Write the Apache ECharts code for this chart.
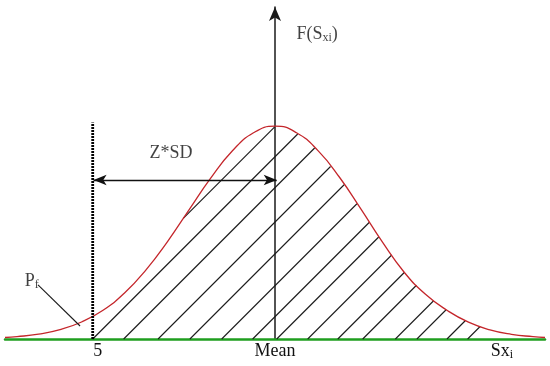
<!DOCTYPE html>
<html>
<head>
<meta charset="utf-8">
<script src="https://cdn.jsdelivr.net/npm/echarts@6/dist/echarts.min.js"></script>
<style>
html, body { margin: 0; padding: 0; background: #fff; }
#main { width: 550px; height: 366px; }
</style>
</head>
<body>
<div id="main"></div>
<script>
// density curve, x in SD units around the mean, y relative to the peak
var curveX = [-3.14, -3, -2.75, -2.5, -2.25, -2, -1.75, -1.5, -1.25, -1, -0.75, -0.5, -0.25, 0,
              0.25, 0.5, 0.75, 1, 1.25, 1.5, 1.75, 2, 2.25, 2.5, 2.75, 3, 3.14];
var curveY = [0.007, 0.011, 0.023, 0.044, 0.08, 0.135, 0.216, 0.325, 0.458, 0.607, 0.755, 0.882, 0.969, 1,
              0.969, 0.885, 0.76, 0.61, 0.455, 0.315, 0.21, 0.135, 0.079, 0.043, 0.022, 0.011, 0.007];

// the "5" limit line and its height
var cutX = -2.12;
var cutTop = 1.017;

// where each hatch line meets the base line
var hatchBase = [-2.47, -2.12, -1.76, -1.36, -0.99, -0.62, -0.26, 0.02, 0.38, 0.73, 1.02, 1.4, 1.65, 2.0, 2.24];

// Z*SD arrow and Pf leader
var spanArrow = [[-2.11, 0.747], [0.02, 0.747]];
var pfLeader = [[-2.756, 0.254], [-2.267, 0.061]];

var tickValues = [-2.06, 0, 2.64];
var tickLabels = ['{m|5}', '{m|Mean}', '{m|Sx}{s|i}'];

var noteNames = ['{m|F(S}{s|xi}{m|)}', '{m|Z*SD}', '{m|P}{s|f}'];
var noteX = [0.49, -1.21, -2.83];
var noteY = [1.43, 0.87, 0.27];

var serif = 'Liberation Serif';
var richText = {
    m: { fontFamily: serif, fontSize: 18, color: '#111', verticalAlign: 'bottom', padding: [0, 0, 1, 0] },
    s: { fontFamily: serif, fontSize: 12, color: '#111', verticalAlign: 'bottom' }
};

var chart = echarts.init(document.getElementById('main'));

function curveAt(pts, px) {
    for (var i = 0; i < pts.length - 1; i++) {
        if (px >= pts[i][0] && px <= pts[i + 1][0]) {
            var t = (px - pts[i][0]) / (pts[i + 1][0] - pts[i][0]);
            return pts[i][1] + t * (pts[i + 1][1] - pts[i][1]);
        }
    }
    return Infinity;
}

function renderHatch(params, api) {
    var p0 = api.coord([api.value(0), 0]);
    var c = p0[0] + p0[1];
    var left = api.coord([cutX, 0])[0];
    var pts = curveX.map(function (x, i) { return api.coord([x, curveY[i]]); });
    var first = null, last = null;
    for (var px = Math.max(left, p0[0]); px <= pts[pts.length - 1][0]; px += 0.25) {
        var py = c - px;
        if (py <= p0[1] + 0.01 && py >= curveAt(pts, px)) {
            if (!first) first = [px, py];
            last = [px, py];
        } else if (first) {
            break;
        }
    }
    if (!first) return null;
    return {
        type: 'line',
        shape: { x1: first[0], y1: first[1], x2: last[0], y2: last[1] },
        style: { stroke: '#1a1a1a', lineWidth: 1.1 }
    };
}

var option = {
    backgroundColor: '#fff',
    animation: false,
    grid: { left: 5, right: 5, top: 7, bottom: 27 },
    xAxis: {
        type: 'value',
        min: -3.14,
        max: 3.14,
        splitLine: { show: false },
        axisLine: { lineStyle: { color: '#1f9e1f', width: 2.5 } },
        axisTick: { show: false },
        axisLabel: {
            customValues: tickValues,
            margin: 3,
            rich: richText,
            formatter: function (v) {
                var idx = 0;
                for (var i = 0; i < tickValues.length; i++) {
                    if (Math.abs(tickValues[i] - v) < Math.abs(tickValues[idx] - v)) idx = i;
                }
                return tickLabels[idx];
            }
        }
    },
    yAxis: {
        type: 'value',
        min: 0,
        max: 1.56,
        splitLine: { show: false },
        axisTick: { show: false },
        axisLabel: { show: false },
        axisLine: {
            onZero: true,
            symbol: ['none', 'arrow'],
            symbolSize: [9, 14],
            lineStyle: { color: '#1a1a1a', width: 1.5 }
        }
    },
    series: [
        {
            type: 'custom',
            renderItem: renderHatch,
            data: hatchBase.map(function (v) { return [v, 0]; }),
            silent: true,
            z: 2
        },
        {
            type: 'line',
            data: curveX.map(function (x, i) { return [x, curveY[i]]; }),
            smooth: true,
            symbol: 'none',
            lineStyle: { color: '#c4262b', width: 1.3 },
            z: 3
        },
        {
            type: 'line',
            data: [[cutX, 0], [cutX, cutTop]],
            symbol: 'none',
            lineStyle: { color: '#000', width: 2.8, type: [2, 1] },
            z: 4
        },
        {
            type: 'line',
            data: pfLeader,
            symbol: 'none',
            lineStyle: { color: '#1a1a1a', width: 1.1 },
            z: 4,
            markLine: {
                silent: true,
                symbol: ['arrow', 'arrow'],
                symbolSize: [8, 13],
                label: { show: false },
                lineStyle: { color: '#111', width: 1.3, type: 'solid' },
                data: [[{ coord: spanArrow[0] }, { coord: spanArrow[1] }]]
            }
        },
        {
            type: 'scatter',
            data: noteX.map(function (x, i) { return { value: [x, noteY[i]], name: noteNames[i] }; }),
            symbolSize: 1,
            itemStyle: { color: 'rgba(0,0,0,0)' },
            label: {
                show: true,
                position: 'inside',
                formatter: function (p) { return p.name; },
                rich: richText
            },
            z: 5
        }
    ]
};

chart.setOption(option);
</script>
</body>
</html>
